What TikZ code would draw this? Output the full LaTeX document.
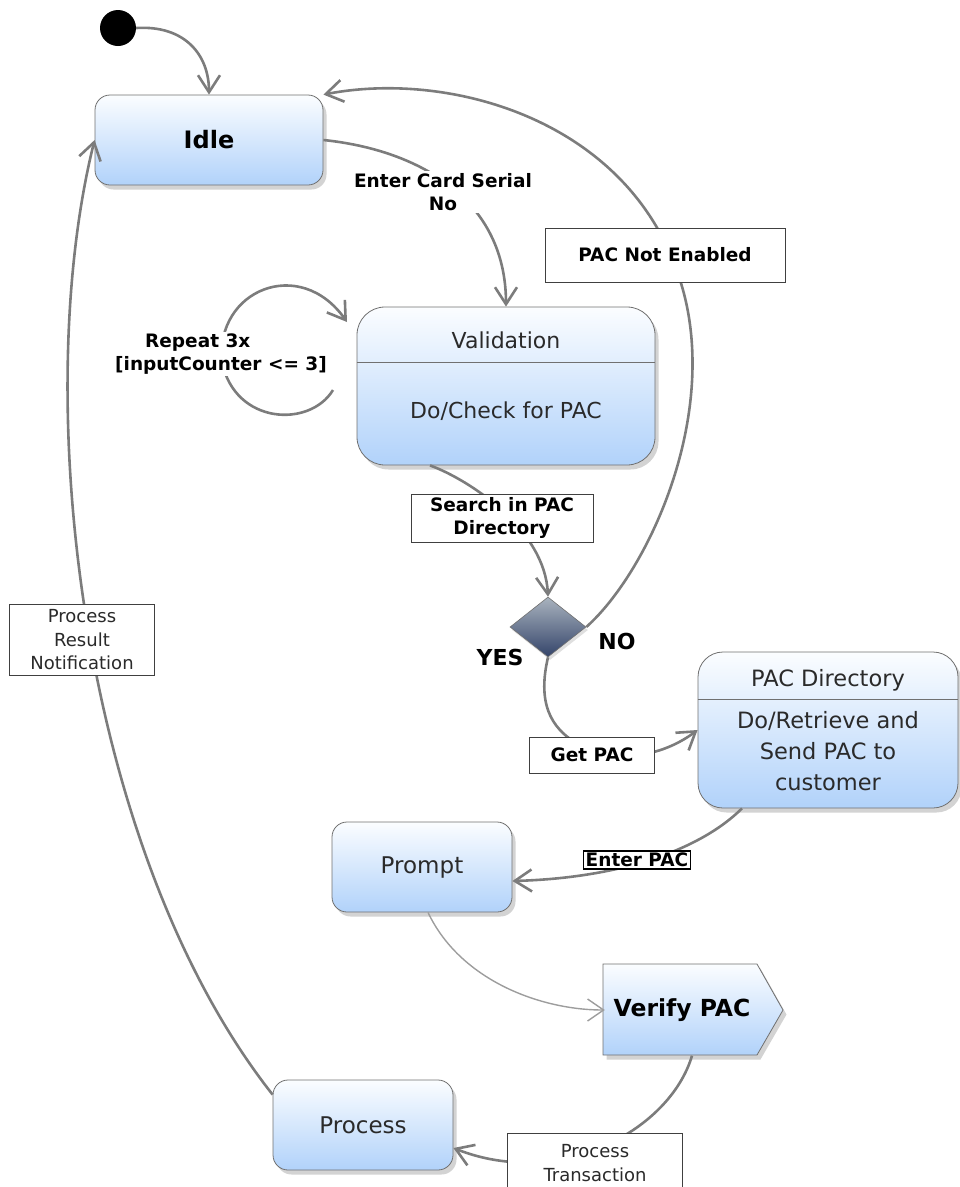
\documentclass[tikz,border=0pt]{standalone}
\usepackage{fontspec}
\setmainfont{DejaVu Sans}
\usetikzlibrary{arrows.meta,shapes.geometric,shadows,calc}

\definecolor{linegray}{HTML}{7C7C7C}
\definecolor{boxedge}{HTML}{707070}
\definecolor{boxtop}{HTML}{FBFDFF}
\definecolor{boxblue}{HTML}{B1D2FA}
\definecolor{textdark}{HTML}{2A2A2A}
\definecolor{dectop}{HTML}{A9B3BE}
\definecolor{decbot}{HTML}{34446A}

\newcommand{\stfont}{\fontsize{23}{31}\selectfont}
\newcommand{\lbfont}{\bfseries\fontsize{18.5}{23}\selectfont}
\newcommand{\plfont}{\fontsize{18}{23.5}\selectfont}

\tikzset{
  state/.style={rectangle, rounded corners=15pt, draw=boxedge, line width=0.8pt,
    top color=boxtop, bottom color=boxblue, text=textdark, font=\stfont,
    drop shadow={opacity=0.35, shadow xshift=3.5pt, shadow yshift=-4.5pt},
    inner sep=0pt},
  stxt/.style={text=textdark, font=\stfont, inner sep=0pt, align=center},
  divider/.style={draw=boxedge, line width=0.8pt},
  arr/.style={draw=linegray, line width=2.6pt,
    -{Straight Barb[length=17pt,width=22pt]}},
  thinarr/.style={draw=linegray!75, line width=1.4pt,
    -{Straight Barb[length=16pt,width=22pt]}},
  tag/.style={draw=black!75, line width=0.8pt, fill=white, font=\lbfont,
    align=center, inner sep=0pt},
  freetag/.style={fill=white, font=\lbfont, align=center, inner sep=2pt},
  branch/.style={font=\bfseries\fontsize{22}{26}\selectfont, inner sep=0pt},
}

\begin{document}
\begin{tikzpicture}[x=1pt, y=-1pt]
\useasboundingbox (0,0) rectangle (960,1187);

% initial pseudo-state
\node[circle, fill=black, minimum size=36pt, inner sep=0pt] (start) at (118,28) {};

% states
\node[state, minimum width=228pt, minimum height=90pt, text=black,
      font=\bfseries\fontsize{24}{28}\selectfont] (idle) at (209,140) {Idle};

\node[state, rounded corners=28pt, minimum width=298pt, minimum height=158pt] (val) at (506,386) {};
\draw[divider] ($(val.north west)+(0,56)$) -- ($(val.north east)+(0,56)$);
\node[stxt, font=\fontsize{22}{26}\selectfont] (valtitle) at (506,340) {Validation};
\node[stxt, font=\fontsize{22}{26}\selectfont] (valbody) at (506,411) {Do/Check for PAC};

\node[diamond, draw=boxedge, line width=0.6pt, top color=dectop, bottom color=decbot,
      minimum width=76pt, minimum height=60pt, inner sep=0pt,
      drop shadow={opacity=0.25, shadow xshift=2pt, shadow yshift=-3pt}] (dec) at (548,627) {};

\node[state, rounded corners=25pt, minimum width=260pt, minimum height=156pt] (pacdir) at (828,730) {};
\draw[divider] ($(pacdir.north west)+(0,48)$) -- ($(pacdir.north east)+(0,48)$);
\node[stxt, font=\fontsize{22.5}{31}\selectfont] (pactitle) at (828,680) {PAC Directory};
\node[stxt, font=\fontsize{22.5}{31}\selectfont] (pacbody) at (828,751) {Do/Retrieve and\\Send PAC to\\customer};

\node[state, minimum width=180pt, minimum height=90pt] (prompt) at (422,867) {Prompt};

% Verify PAC: pentagon pointing right
\path[draw=boxedge, line width=0.8pt, top color=boxtop, bottom color=boxblue,
      drop shadow={opacity=0.35, shadow xshift=3.5pt, shadow yshift=-4.5pt}]
  (603,964) -- (757,964) -- (783,1010) -- (757,1055) -- (603,1055) -- cycle;
\node[minimum width=154pt, minimum height=91pt, inner sep=0pt, text=black,
      font=\bfseries\fontsize{23.5}{28}\selectfont] (verify) at (682,1010) {Verify PAC};

\node[state, minimum width=180pt, minimum height=90pt] (process) at (363,1125) {Process};

% transitions
\draw[arr] (start.east) .. controls (185,25) and (209,55) .. (idle.north);
\draw[arr] (idle.east) .. controls (420,150) and (506,200) .. (val.north);

\coordinate (loopout) at (333,390);
\coordinate (loopin) at (347,322);
\draw[arr] (loopout) .. controls (310,428) and (235,425) .. (222,362)
                     .. controls (215,290) and (300,255) .. (loopin);

\draw[arr] ($(val.south)+(-76,0)$) .. controls (470,480) and (545,530) .. (dec.north);
\draw[arr] (dec.east) .. controls (650,570) and (722,410) .. (680,280)
                      .. controls (630,120) and (450,70) .. (idle.north east);
\draw[arr] (dec.south) .. controls (538,700) and (548,728) .. (580,745)
                       .. controls (615,763) and (660,758) .. (pacdir.west);
\draw[arr] ($(pacdir.south)+(-86,0)$) .. controls (700,850) and (620,878) .. ($(prompt.east)+(0,14)$);
\draw[thinarr] ($(prompt.south)+(6,0)$) .. controls (460,980) and (540,1010) .. (verify.west);
\draw[arr] ($(verify.south)+(10,0)$) .. controls (670,1130) and (560,1190) .. ($(process.east)+(0,23)$);
\draw[arr] ($(process.north west)+(0,15)$) .. controls (80,850) and (30,400) .. (idle.west);

% transition labels
\node[freetag] (lcard) at (443,192) {Enter Card Serial\\No};
\node[tag, minimum width=240pt, minimum height=54pt] (lnoen) at (665,255) {PAC Not Enabled};
\node[freetag, align=left, anchor=west] (lrep) at (113,354) {\hspace*{30pt}Repeat 3x\\{[}inputCounter <= 3{]}};
\node[tag, minimum width=182pt, minimum height=48pt] (lsearch) at (502,518) {Search in PAC\\Directory};
\node[branch] (lyes) at (500,657) {YES};
\node[branch] (lno) at (617,641) {NO};
\node[tag, minimum width=125pt, minimum height=36pt] (lget) at (592,755) {Get PAC};
\node[tag, draw=black, line width=1.2pt, inner sep=2pt] (lenter) at (637,860) {Enter PAC};
\node[tag, font=\plfont, text=textdark, minimum width=145pt, minimum height=71pt] (lres) at (82,640) {Process\\Result\\Notification};
\node[tag, font=\plfont, text=textdark, minimum width=175pt, minimum height=60pt] (ltrans) at (595,1163) {Process\\Transaction};
\end{tikzpicture}
\end{document}
